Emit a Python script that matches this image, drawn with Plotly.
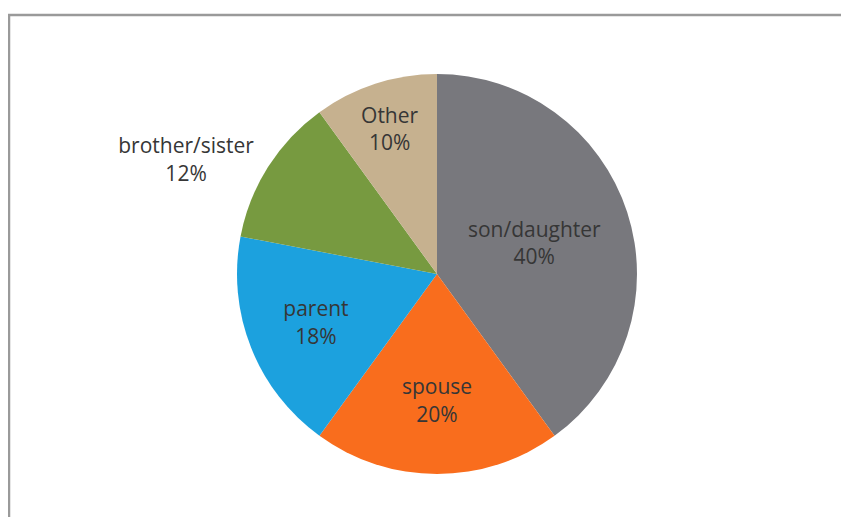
import plotly.graph_objects as go

# ===== datos =====
labels = ["son/daughter", "spouse", "parent", "brother/sister", "Other"]
values = [40, 20, 18, 12, 10]
colors = ["#78787D", "#F96D1D", "#1CA1DE", "#779A40", "#C6B18F"]
text_pos = ["inside", "inside", "inside", "outside", "inside"]

# la página tiene 8px de margen en el body -> el lienzo empieza en 8
OFF = 8
W, H = 849 - 2 * OFF, 525 - 2 * OFF
TEXT = "#363636"

# centro (437, 274) y radio 200 en la ventana
cx, cy, r = 437 - OFF, 274 - OFF, 200

fig = go.Figure(go.Pie(
    labels=labels, values=values,
    sort=False, direction="clockwise", rotation=0,
    marker=dict(colors=colors, line=dict(width=0)),
    texttemplate="%{label}<br>%{percent:.0%}",
    textposition=text_pos,
    insidetextorientation="horizontal",
    textfont=dict(family="Open Sans", size=21, color=TEXT),
    domain=dict(x=[(cx - r) / W, (cx + r) / W], y=[1 - (cy + r) / H, 1 - (cy - r) / H]),
    showlegend=False,
    hoverinfo="label+percent",
))

# marco gris: solo borde izquierdo y superior
xl, yt = 1 / W, 1 - 7 / H
fig.add_shape(type="path", xref="paper", yref="paper",
              path=f"M {xl},0 L {xl},{yt} L 1,{yt}",
              line=dict(color="#9A9A9A", width=2.5))

fig.update_layout(
    width=W, height=H,
    margin=dict(l=0, r=0, t=0, b=0),
    paper_bgcolor="white", plot_bgcolor="white",
    font=dict(family="Open Sans", color=TEXT),
)

fig.write_html("out.html")
